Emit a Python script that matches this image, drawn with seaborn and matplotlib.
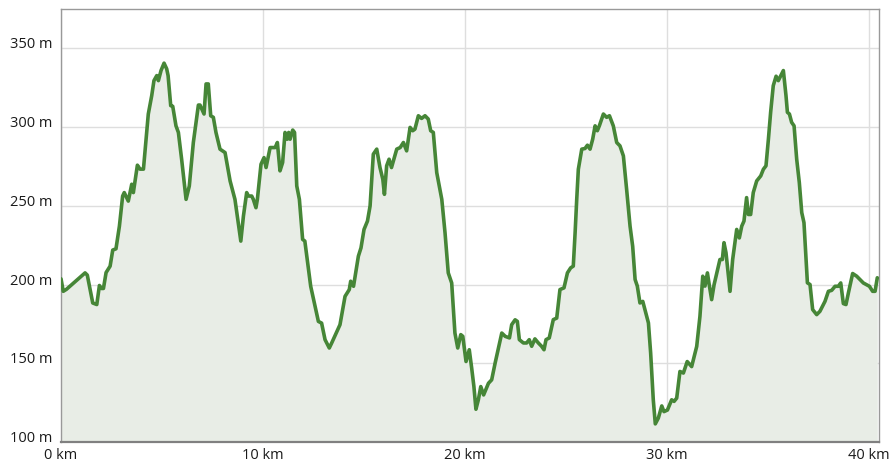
import numpy as np
import pandas as pd
import matplotlib
matplotlib.use("Agg")
import matplotlib.pyplot as plt
import seaborn as sns

# elevation profile (distance in km, elevation in m)
distance_km = [
    0.0, 0.11, 0.27, 1.19, 1.3, 1.57, 1.77, 1.9, 2.0, 2.1, 2.23, 2.43, 2.56, 2.72,
    2.89, 3.05, 3.13, 3.33, 3.5, 3.58, 3.78, 3.91, 4.08, 4.32, 4.49, 4.6, 4.74,
    4.82, 4.95, 5.1, 5.23, 5.3, 5.43, 5.53, 5.69, 5.81, 5.97, 6.19, 6.35, 6.55,
    6.8, 6.88, 7.08, 7.18, 7.29, 7.41, 7.54, 7.67, 7.87, 8.12, 8.37, 8.61, 8.9,
    9.03, 9.19, 9.28, 9.44, 9.52, 9.65, 9.72, 9.9, 10.05, 10.15, 10.35, 10.6,
    10.71, 10.84, 10.97, 11.09, 11.2, 11.27, 11.34, 11.47, 11.56, 11.67, 11.8,
    11.96, 12.07, 12.36, 12.74, 12.9, 13.07, 13.28, 13.4, 13.81, 14.06, 14.27,
    14.34, 14.48, 14.72, 14.85, 15.0, 15.17, 15.3, 15.46, 15.63, 15.79, 15.93,
    16.01, 16.12, 16.24, 16.36, 16.62, 16.79, 16.95, 17.11, 17.28, 17.41, 17.52,
    17.69, 17.85, 18.02, 18.18, 18.3, 18.43, 18.6, 18.85, 19.01, 19.17, 19.34,
    19.5, 19.64, 19.79, 19.89, 20.05, 20.21, 20.33, 20.44, 20.54, 20.66, 20.78,
    20.92, 21.16, 21.32, 21.49, 21.82, 21.99, 22.2, 22.31, 22.48, 22.59, 22.69,
    22.89, 23.05, 23.18, 23.3, 23.46, 23.63, 23.79, 23.91, 24.01, 24.17, 24.37,
    24.54, 24.7, 24.9, 25.07, 25.23, 25.36, 25.45, 25.53, 25.61, 25.78, 25.94,
    26.06, 26.19, 26.32, 26.44, 26.55, 26.65, 26.85, 27.01, 27.15, 27.34, 27.51,
    27.67, 27.84, 28.0, 28.17, 28.3, 28.42, 28.53, 28.66, 28.8, 28.91, 29.08,
    29.19, 29.32, 29.42, 29.57, 29.74, 29.85, 30.02, 30.23, 30.35, 30.48, 30.64,
    30.81, 31.0, 31.22, 31.47, 31.63, 31.77, 31.88, 32.0, 32.1, 32.21, 32.33,
    32.54, 32.62, 32.74, 32.82, 32.92, 33.12, 33.25, 33.45, 33.58, 33.7, 33.81,
    33.94, 34.03, 34.14, 34.27, 34.44, 34.64, 34.77, 34.9, 35.02, 35.13, 35.26,
    35.4, 35.51, 35.62, 35.76, 35.89, 35.96, 36.06, 36.17, 36.29, 36.42, 36.55,
    36.67, 36.78, 36.95, 37.08, 37.21, 37.41, 37.57, 37.82, 37.99, 38.15, 38.32,
    38.48, 38.6, 38.73, 38.86, 38.98, 39.19, 39.39, 39.72, 40.02, 40.18, 40.3,
    40.41,
]
elevation_m = [
    203.6, 195.7, 197, 207.4, 206, 188.3, 187.3, 199.4, 197.5, 197.5, 207.6,
    211.7, 221.9, 222.7, 237.1, 256.2, 258.4, 253, 263.7, 258.4, 275.8, 273.3,
    273.3, 308.3, 320, 329.5, 332.7, 329.5, 335.9, 340.6, 337, 332.7, 313.6,
    313.2, 300.8, 296.6, 279.6, 254.1, 262.6, 290.2, 314, 314, 308.3, 327.4,
    327.4, 307.2, 306.2, 296.6, 286, 283.8, 265.8, 254.1, 227.6, 243.5, 258.4,
    256.2, 256.2, 254.1, 248.8, 254.1, 276.4, 280.6, 274.3, 287, 287, 290.2,
    272.2, 277.5, 296.6, 292.3, 296.6, 292.3, 298.1, 296.6, 262.6, 254.1, 228.7,
    227.6, 198.9, 176.6, 175.5, 165, 159.7, 162.9, 174.5, 192.5, 196.8, 202.1,
    198.9, 218, 223.3, 235, 240.3, 249.9, 282.8, 286, 274.3, 266.9, 257.3, 275.4,
    279.6, 274.3, 286, 287, 290.2, 284.9, 299.8, 297.7, 298.7, 307.2, 305.5,
    307.2, 305.1, 297.7, 296.6, 271.1, 254.1, 232.9, 207.4, 201, 169.2, 159.7,
    168.2, 167.1, 151.1, 158.6, 146.9, 135.2, 120.8, 126.8, 135.2, 129.9, 137.3,
    139.5, 150.1, 169.2, 167.1, 166.1, 174.5, 177.6, 176.6, 165, 162.9, 162.9,
    165, 160.8, 165.5, 162.9, 160.8, 158.6, 165, 166.1, 177.7, 178.7, 196.8,
    197.9, 207.4, 210.6, 211.7, 232.9, 254.1, 273.2, 286, 286.4, 288.5, 286,
    292.3, 300.8, 297.7, 300.8, 308.3, 306.2, 307.2, 300.8, 290.2, 288.1, 281.7,
    260.5, 237.1, 224.3, 203.2, 199, 188.3, 189.3, 184, 175.6, 156.5, 126.8,
    111.5, 115.2, 122.9, 119.3, 120.3, 126.8, 125.8, 127.9, 144.8, 143.8, 151.1,
    147.9, 160.7, 179.8, 205.3, 199, 207.4, 199, 190.4, 199.9, 211.7, 215.9,
    215.9, 226.6, 220.2, 195.7, 215.9, 235, 229.6, 237.1, 240.3, 255.2, 244.5,
    244.5, 258.4, 265.8, 269, 273.2, 275.4, 292.4, 309.4, 326.3, 332.3, 329.5,
    332.3, 335.9, 320, 309.4, 308.3, 303, 300.8, 279.6, 264.7, 245.7, 239.3,
    201.1, 200, 184.1, 180.9, 183, 189.3, 195.7, 196.3, 198.9, 198.9, 201,
    187.9, 187.3, 194.7, 207, 205.3, 201, 198.9, 195.7, 195.7, 204.3,
]
x_ticks = [0, 10, 20, 30, 40]
x_labels = ["0 km", "10 km", "20 km", "30 km", "40 km"]
y_ticks = [100, 150, 200, 250, 300, 350]
y_labels = ["100 m", "150 m", "200 m", "250 m", "300 m", "350 m"]

df = pd.DataFrame({"km": distance_km, "m": elevation_m})

sns.set_style("white")
plt.rcParams["font.family"] = ["Open Sans", "DejaVu Sans"]

fig = plt.figure(figsize=(8.91, 4.66), dpi=100)
ax = fig.add_axes([0.0685, 0.0515, 0.9177, 0.9292])

line_color = "#468637"
ax.fill_between(df["km"], df["m"], 100, color="#e8ede6", zorder=1, linewidth=0)
sns.lineplot(data=df, x="km", y="m", ax=ax, color=line_color, linewidth=2.6,
             sort=False, estimator=None, zorder=3,
             solid_joinstyle="round", solid_capstyle="round")

ax.set_xlim(0, 40.48)
ax.set_ylim(100, 375)
ax.set_xticks(x_ticks)
ax.set_xticklabels(x_labels)
ax.set_yticks(y_ticks)
ax.set_yticklabels(y_labels)
for lbl in ax.get_yticklabels():
    lbl.set_va("baseline")
ax.tick_params(axis="both", length=0, labelsize=10.5, colors="#1a1a1a")
ax.tick_params(axis="y", pad=6)
ax.tick_params(axis="x", pad=4)
ax.set_xlabel("")
ax.set_ylabel("")

ax.grid(True, color="#dedede", linewidth=1, zorder=0)
ax.set_axisbelow(True)
for side in ["top", "right", "left"]:
    ax.spines[side].set_color("#999999")
    ax.spines[side].set_linewidth(1)
ax.spines["bottom"].set_color("#808080")
ax.spines["bottom"].set_linewidth(1.6)

fig.savefig("out.png", dpi=100)
